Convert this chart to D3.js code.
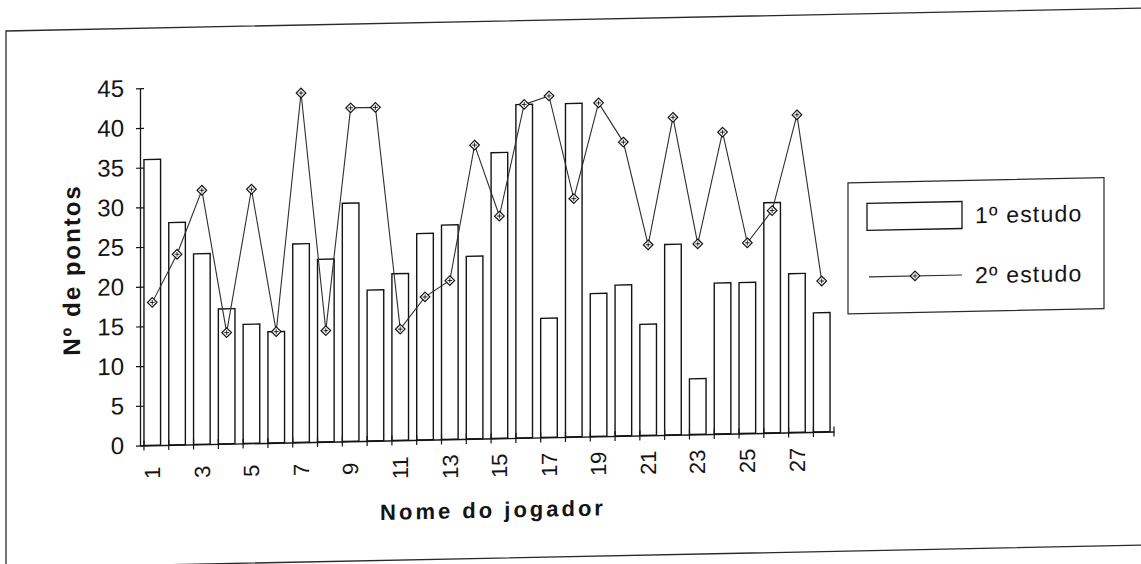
<!DOCTYPE html>
<html>
<head>
<meta charset="utf-8">
<script src="https://cdn.jsdelivr.net/npm/d3@7"></script>
<style>
  html, body { margin: 0; padding: 0; background: #fff; }
  svg { display: block; font-family: "Liberation Sans", Arial, sans-serif; }
</style>
</head>
<body>
<svg id="chart" width="1141" height="564"></svg>
<script>
// Players (category axis)
const jogadores = ["1","2","3","4","5","6","7","8","9","10","11","12","13","14",
                   "15","16","17","18","19","20","21","22","23","24","25","26","27","28"];
// Points per player, first study (bars)
const estudo1 = [36, 28, 24, 17, 15, 14, 25, 23, 30, 19, 21, 26, 27, 23,
                 36, 42, 15, 42, 18, 19, 14, 24, 7, 19, 19, 29, 20, 15];
// Points per player, second study (line)
const estudo2 = [18, 24, 32, 14, 32, 14, 44, 14, 42, 42, 14, 18, 20, 37,
                 28, 42, 43, 30, 42, 37, 24, 40, 24, 38, 24, 28, 40, 19];
// Axis tick labels
const yTicks = [0, 5, 10, 15, 20, 25, 30, 35, 40, 45];
const xTickLabels = ["1","3","5","7","9","11","13","15","17","19","21","23","25","27"];
const seriesNames = ["1º estudo", "2º estudo"];

const svg = d3.select("#chart");
const ink = "#141414";

// whole sheet sits with a slight slope
const sheet = svg.append("g")
  .attr("transform", "translate(140,0) skewY(-1.15) translate(-140,0)");

// outer frame
sheet.append("rect")
  .attr("x", 6).attr("y", 28.3).attr("width", 1200).attr("height", 537)
  .attr("fill", "none").attr("stroke", "#2a2a2a").attr("stroke-width", 1.3);

const x = d3.scaleBand().domain(jogadores).range([140, 834])
  .paddingInner(0.33).paddingOuter(0.16);
const y = d3.scaleLinear().domain([0, 45]).range([445.5, 88.3]);
const cx = d => x(d) + x.bandwidth() / 2;

// bars: 1º estudo
sheet.append("g").selectAll("rect")
  .data(jogadores)
  .join("rect")
  .attr("x", d => x(d))
  .attr("y", (d, i) => y(estudo1[i]))
  .attr("width", x.bandwidth())
  .attr("height", (d, i) => y(0) - y(estudo1[i]))
  .attr("fill", "#fff").attr("stroke", ink).attr("stroke-width", 1.4);

// y axis
const yAxis = sheet.append("g")
  .attr("transform", "translate(140,0)")
  .call(d3.axisLeft(y).tickValues(yTicks).tickSizeInner(4).tickSizeOuter(0).tickPadding(12));
yAxis.select(".domain").attr("stroke", ink).attr("stroke-width", 1.3);
yAxis.selectAll(".tick line").attr("x1", 4).attr("x2", -4).attr("stroke", ink).attr("stroke-width", 1.2);
yAxis.selectAll(".tick text")
  .attr("font-size", 24).attr("fill", ink)
  .attr("font-family", "'Liberation Sans', Arial, sans-serif");

// x axis
const xAxis = sheet.append("g")
  .attr("transform", `translate(0,${y(0)})`)
  .call(d3.axisBottom(x).tickValues(xTickLabels).tickSize(0).tickSizeOuter(0));
xAxis.select(".domain").attr("stroke", ink).attr("stroke-width", 1.4);
xAxis.selectAll(".tick text")
  .attr("transform", "rotate(-90)")
  .attr("x", -27.5).attr("y", 0).attr("dy", "0.35em")
  .attr("text-anchor", "middle")
  .attr("font-size", 22).attr("fill", ink)
  .attr("font-family", "'Liberation Sans', Arial, sans-serif");

// category tick marks crossing the axis
const tickXs = jogadores.map(d => x(d)).concat([x.range()[1]]);
sheet.append("g").selectAll("line")
  .data(tickXs)
  .join("line")
  .attr("x1", d => d).attr("x2", d => d)
  .attr("y1", y(0) - 5).attr("y2", y(0) + 5)
  .attr("stroke", ink).attr("stroke-width", 1.2);

// line: 2º estudo
const line = d3.line().x(d => cx(d)).y((d, i) => y(estudo2[i]));
sheet.append("path")
  .datum(jogadores)
  .attr("d", line)
  .attr("fill", "none").attr("stroke", "#2e2e2e").attr("stroke-width", 1.1);

function marker(g) {
  g.append("path").attr("d", "M0,-4.8L4.8,0L0,4.8L-4.8,0Z")
    .attr("fill", "#fff").attr("stroke", ink).attr("stroke-width", 1.2);
  g.append("path").attr("d", "M-2.4,0H2.4M0,-2.4V2.4")
    .attr("stroke", ink).attr("stroke-width", 0.9);
}
sheet.append("g").selectAll("g")
  .data(jogadores)
  .join("g")
  .attr("transform", (d, i) => `translate(${cx(d)},${y(estudo2[i])})`)
  .each(function () { marker(d3.select(this)); });

// axis titles
sheet.append("text")
  .attr("transform", "translate(72,268.6) rotate(-90)")
  .attr("dy", "0.35em").attr("text-anchor", "middle")
  .attr("font-size", 24).attr("font-weight", "bold").attr("letter-spacing", 2)
  .attr("fill", ink)
  .text("Nº de pontos");

sheet.append("text")
  .attr("x", 493).attr("y", 517)
  .attr("dy", "0.35em").attr("text-anchor", "middle")
  .attr("font-size", 22).attr("font-weight", "bold").attr("letter-spacing", 3)
  .attr("fill", ink)
  .text("Nome do jogador");

// legend
const legend = sheet.append("g");
legend.append("rect")
  .attr("x", 848).attr("y", 197).attr("width", 256).attr("height", 131)
  .attr("fill", "#fff").attr("stroke", "#2a2a2a").attr("stroke-width", 1.2);
legend.append("rect")
  .attr("x", 867).attr("y", 218).attr("width", 95).attr("height", 27)
  .attr("fill", "#fff").attr("stroke", ink).attr("stroke-width", 1.3);
legend.append("line")
  .attr("x1", 869).attr("x2", 962).attr("y1", 291.5).attr("y2", 291.5)
  .attr("stroke", "#2e2e2e").attr("stroke-width", 1.1);
marker(legend.append("g").attr("transform", "translate(915,291.5)"));
legend.selectAll("text.lbl")
  .data(seriesNames)
  .join("text")
  .attr("class", "lbl")
  .attr("x", 975)
  .attr("y", (d, i) => i === 0 ? 232 : 292)
  .attr("dy", "0.35em")
  .attr("font-size", 23).attr("letter-spacing", 1.2)
  .attr("fill", ink)
  .text(d => d);
</script>
</body>
</html>
